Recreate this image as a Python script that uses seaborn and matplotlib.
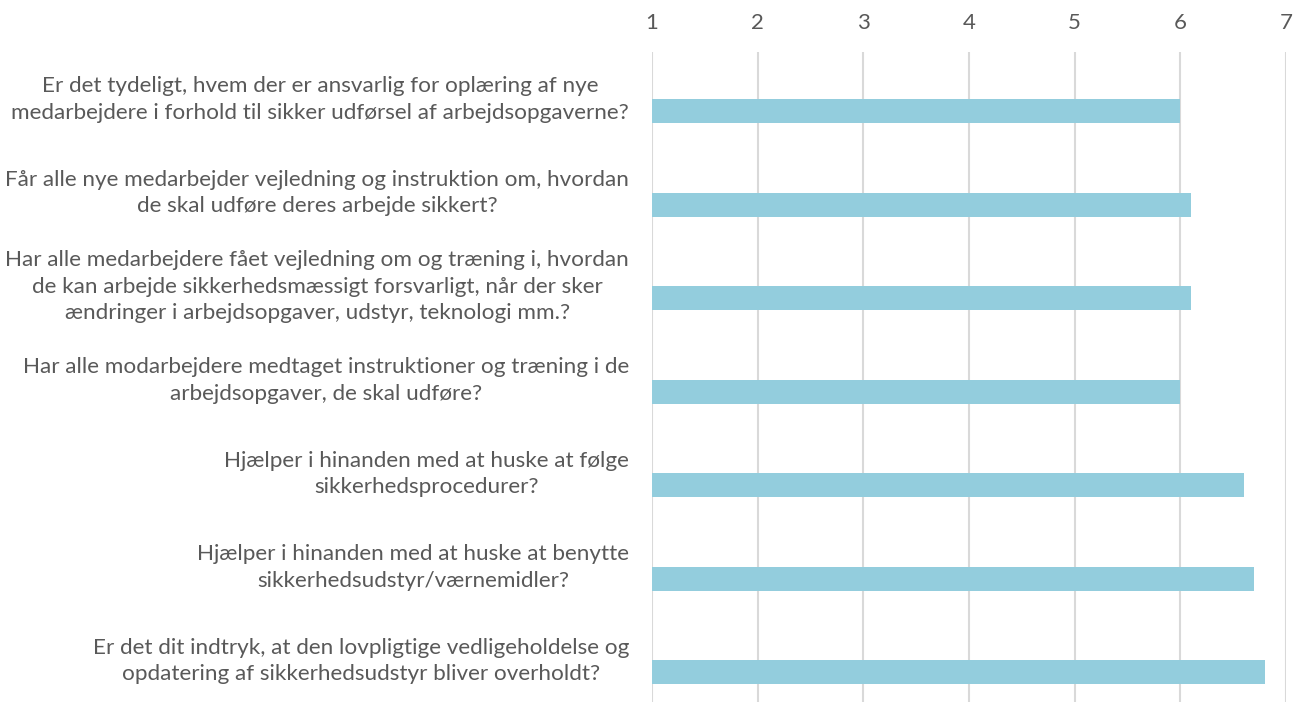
import matplotlib
matplotlib.use("Agg")
import matplotlib.pyplot as plt
import matplotlib.transforms as mtransforms
import seaborn as sns
import pandas as pd

questions = [
    "Er det tydeligt, hvem der er ansvarlig for oplæring af nye\nmedarbejdere i forhold til sikker udførsel af arbejdsopgaverne?",
    "Får alle nye medarbejder vejledning og instruktion om, hvordan\nde skal udføre deres arbejde sikkert?",
    "Har alle medarbejdere fået vejledning om og træning i, hvordan\nde kan arbejde sikkerhedsmæssigt forsvarligt, når der sker\nændringer i arbejdsopgaver, udstyr, teknologi mm.?",
    "Har alle modarbejdere medtaget instruktioner og træning i de\narbejdsopgaver, de skal udføre?",
    "Hjælper i hinanden med at huske at følge\nsikkerhedsprocedurer?",
    "Hjælper i hinanden med at huske at benytte\nsikkerhedsudstyr/værnemidler?",
    "Er det dit indtryk, at den lovpligtige vedligeholdelse og\nopdatering af sikkerhedsudstyr bliver overholdt?",
]
scores = [6.0, 6.1, 6.1, 6.0, 6.6, 6.7, 6.8]
x_ticks = [1, 2, 3, 4, 5, 6, 7]

sns.set_theme(style="white")
plt.rcParams["font.family"] = ["Lato", "DejaVu Sans"]

TEXT = "#595959"
GRID = "#D9D9D9"
BAR = "#93CDDD"

W, H = 1305, 702
fig = plt.figure(figsize=(W / 100, H / 100), dpi=100)
ax = fig.add_axes([652 / W, 0, (1286 - 652) / W, (H - 52) / H])

df = pd.DataFrame({"question": questions, "score": scores})
sns.barplot(data=df, x="score", y="question", orient="h", color=BAR,
            width=0.257, saturation=1, ax=ax, edgecolor="none")

band = 93.55
top_data = -59 / band
ax.set_ylim(top_data + (H - 52) / band, top_data)
ax.set_xlim(x_ticks[0], x_ticks[-1])
ax.set_xticks(x_ticks)
ax.set_xticklabels([str(t) for t in x_ticks])
ax.xaxis.tick_top()
ax.set_xlabel("")
ax.set_ylabel("")

for s in ax.spines.values():
    s.set_visible(False)
ax.grid(False)
ax.set_axisbelow(True)
for t in x_ticks:
    ax.axvline(t, color=GRID, lw=1.5, zorder=0)

ax.tick_params(axis="x", length=0, pad=14, labelsize=16, labelcolor=TEXT)
ax.tick_params(axis="y", length=0, pad=16.5, labelsize=16.2, labelcolor=TEXT)

offset = mtransforms.ScaledTranslation(0, 16.5 / 100, fig.dpi_scale_trans)
for lbl in ax.get_yticklabels():
    lbl.set_multialignment("center")
    lbl.set_linespacing(1.4)
    lbl.set_transform(lbl.get_transform() + offset)

fig.savefig("out.png", dpi=100)
